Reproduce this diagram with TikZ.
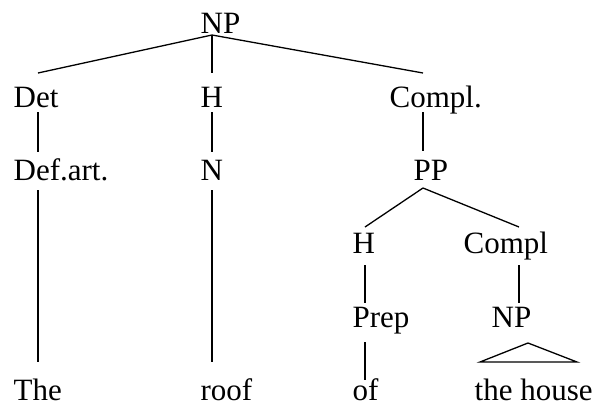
\documentclass[tikz,border=0pt]{standalone}
\usepackage{fontspec}
\setmainfont{Liberation Serif}
\usepackage{tikz}

\begin{document}
\begin{tikzpicture}[
  x=1pt,
  y=-1pt,
  line width=1.3pt,
  every node/.style={
    anchor=base west,
    inner sep=0,
    font=\fontsize{31}{37}\selectfont
  }
  ]
  \useasboundingbox (0,0) rectangle (598,405);

  \node (np0) at (200,33) {NP};

  \node (det) at (13,107) {Det};
  \node (h0) at (200,107) {H};
  \node (compl0) at (389,107) {Compl.};

  \node (defart) at (13,180) {Def.art.};
  \node (n) at (200,180) {N};
  \node (pp) at (413,180) {PP};

  \node (h1) at (352,253) {H};
  \node (compl1) at (463,253) {Compl};

  \node (prep) at (352,327) {Prep};
  \node (np1) at (491,327) {NP};

  \node (the) at (13,400) {The};
  \node (roof) at (200,400) {roof};
  \node (of) at (352,400) {of};
  \node (house) at (474,400) {the house};

  \draw ([shift={(12,2)}]np0.base west) -- ([shift={(25,-34)}]det.base west);
  \draw ([shift={(12,2)}]np0.base west) -- ([shift={(12,-34)}]h0.base west);
  \draw ([shift={(12,2)}]np0.base west) -- ([shift={(34,-34)}]compl0.base west);

  \draw ([shift={(25,5)}]det.base west) -- ([shift={(25,-28)}]defart.base west);
  \draw ([shift={(12,5)}]h0.base west) -- ([shift={(12,-28)}]n.base west);
  \draw ([shift={(34,5)}]compl0.base west) -- ([shift={(10,-29)}]pp.base west);

  \draw ([shift={(25,10)}]defart.base west) -- ([shift={(25,-38)}]the.base west);
  \draw ([shift={(12,10)}]n.base west) -- ([shift={(12,-38)}]roof.base west);

  \draw ([shift={(10,8)}]pp.base west) -- ([shift={(13,-26)}]h1.base west);
  \draw ([shift={(10,8)}]pp.base west) -- ([shift={(56,-26)}]compl1.base west);

  \draw ([shift={(13,12)}]h1.base west) -- ([shift={(13,-24)}]prep.base west);
  \draw ([shift={(56,12)}]compl1.base west) -- ([shift={(28,-24)}]np1.base west);

  \draw ([shift={(13,15)}]prep.base west) -- ([shift={(13,-20)}]of.base west);

  % triangle over "the house"
  \draw ([shift={(6,-38)}]house.base west) -- ([shift={(37,16)}]np1.base west)
    -- ([shift={(103,-38)}]house.base west) -- cycle;
\end{tikzpicture}
\end{document}
